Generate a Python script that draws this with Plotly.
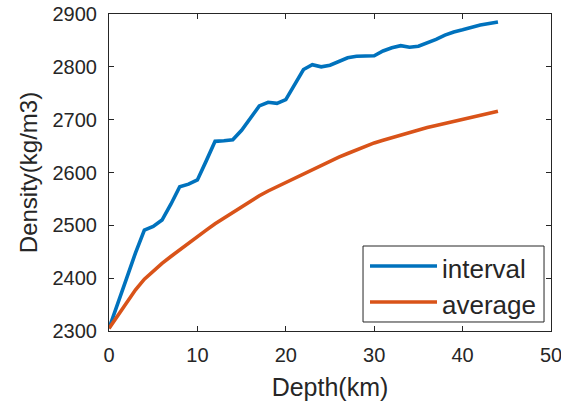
import plotly.graph_objects as go

# Depth samples (km)
depth_km = list(range(0, 45))

# Interval density (kg/m3) per depth sample
interval_density = [
    2305, 2355, 2400, 2448, 2491, 2498, 2510, 2540, 2573, 2578,
    2586, 2622, 2659, 2660, 2662, 2680, 2703, 2726, 2733, 2731,
    2738, 2765, 2795, 2804, 2800, 2803, 2810, 2817, 2820, 2820,
    2821, 2830, 2836, 2840, 2837, 2839, 2845, 2852, 2860, 2866,
    2870, 2875, 2879, 2882, 2885,
]

# Average density (kg/m3) per depth sample
average_density = [
    2305, 2330, 2355, 2378, 2398, 2414, 2428, 2441, 2454, 2466,
    2478, 2491, 2503, 2514, 2525, 2535, 2546, 2556, 2565, 2573,
    2581, 2590, 2598, 2606, 2614, 2622, 2629, 2636, 2643, 2650,
    2656, 2661, 2666, 2671, 2676, 2680, 2685, 2689, 2693, 2697,
    2701, 2705, 2709, 2712, 2716,
]

series_names = ["interval", "average"]
series_colors = ["#0072BD", "#D95319"]

x_ticks = [0, 10, 20, 30, 40, 50]
y_ticks = [2300, 2400, 2500, 2600, 2700, 2800, 2900]

FONT = "Liberation Sans, Arial, sans-serif"
INK = "#262626"
LINE_W = 3.6

fig = go.Figure()
for name, values, color in zip(series_names, [interval_density, average_density], series_colors):
    fig.add_trace(go.Scatter(
        x=depth_km, y=values, mode="lines", name=name,
        line=dict(color=color, width=LINE_W), showlegend=False,
    ))

axis_common = dict(
    showline=True, linecolor=INK, linewidth=1, mirror="ticks",
    ticks="inside", ticklen=5, tickwidth=1, tickcolor=INK,
    showgrid=False, zeroline=False, automargin=False,
    ticklabeloverflow="allow",
    tickfont=dict(family=FONT, size=20, color=INK),
)

fig.update_xaxes(
    range=[0, 50], tickvals=x_ticks, ticklabelstandoff=6,
    title=dict(text="Depth(km)", font=dict(family=FONT, size=25, color=INK), standoff=13),
    **axis_common,
)
fig.update_yaxes(
    range=[2300, 2900], tickvals=y_ticks, ticklabelstandoff=7,
    title=dict(text="Density(kg/m3)", font=dict(family=FONT, size=24, color=INK), standoff=8),
    **axis_common,
)

# Legend box drawn in axes-relative coordinates
shapes = [dict(type="rect", xref="x domain", yref="y domain",
               x0=0.5747, x1=0.9842, y0=0.0284, y1=0.2681,
               line=dict(color=INK, width=1), fillcolor="white")]
annotations = []
for i, (name, color) in enumerate(zip(series_names, series_colors)):
    y_line = [0.2050, 0.0915][i]
    shapes.append(dict(type="line", xref="x domain", yref="y domain",
                       x0=0.5905, x1=0.7421, y0=y_line, y1=y_line,
                       line=dict(color=color, width=LINE_W)))
    annotations.append(dict(xref="x domain", yref="y domain", x=0.7489, y=y_line - 0.008,
                            text=name, showarrow=False, xanchor="left", yanchor="middle",
                            font=dict(family=FONT, size=26, color=INK)))

fig.update_layout(
    width=561, height=407,
    margin=dict(l=109, r=10, t=14, b=76),
    paper_bgcolor="white", plot_bgcolor="white",
    shapes=shapes, annotations=annotations,
)

fig.write_html("out.html")
